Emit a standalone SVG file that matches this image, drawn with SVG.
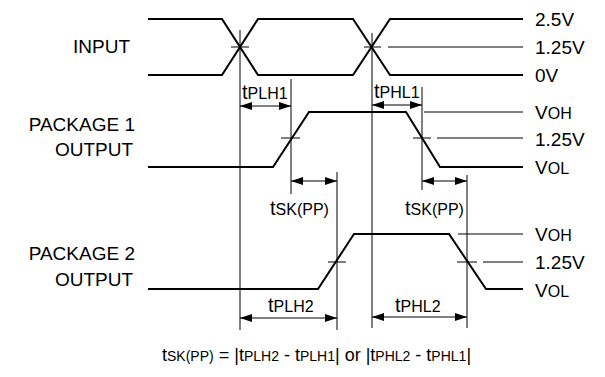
<svg xmlns="http://www.w3.org/2000/svg" width="605" height="377" viewBox="0 0 605 377">
<defs>
<marker id="ah" viewBox="0 0 12 8" refX="12" refY="4" markerWidth="12" markerHeight="8" markerUnits="userSpaceOnUse" orient="auto-start-reverse">
<path d="M0,0 L12,4 L0,8 Z" fill="#000"/>
</marker>
</defs>
<style>
.sig{fill:none;stroke:#000;stroke-width:2;stroke-linejoin:miter}
.ref{fill:none;stroke:#000;stroke-width:1}
.dim{fill:none;stroke:#000;stroke-width:1;marker-start:url(#ah);marker-end:url(#ah)}
text{font-family:"Liberation Sans",Arial,Helvetica,sans-serif;fill:#000}
.lbl{font-size:19px}
.big{font-size:20px}
.sm{font-size:16px}
.fb{font-size:18px}
.fs{font-size:14px}
</style>
<rect width="605" height="377" fill="#fff"/>
<g id="labels-left" class="lbl">
<text x="130" y="53" text-anchor="end">INPUT</text>
<text x="135" y="131" text-anchor="end">PACKAGE 1</text>
<text x="133" y="156" text-anchor="end">OUTPUT</text>
<text x="135" y="260" text-anchor="end">PACKAGE 2</text>
<text x="133" y="286" text-anchor="end">OUTPUT</text>
</g>
<g id="input">
<path class="sig" d="M148,19 H222 L258,75 H353 L390,19 H523"/>
<path class="sig" d="M148,75 H222 L258,19 H353 L390,75 H523"/>
<path class="ref" d="M231,47 H249 M364,47 H381 M388,47 H523"/>
</g>
<g id="package1">
<path class="sig" d="M148,167 H273 L309,112 H406 L440,167 H523"/>
<path class="ref" d="M424,112 H523 M281,138 H300 M413,138 H431 M437,138 H523"/>
</g>
<g id="package2">
<path class="sig" d="M148,289 H318 L354,234 H449 L486,289 H523"/>
<path class="ref" d="M458,234 H523 M328,262 H346 M457,262 H477 M483,262 H523"/>
</g>
<g id="connectors">
<path class="ref" d="M240,30 V330 M372,33 V328 M291,79 V194 M422,87 V190 M337,172 V330 M467,175 V328"/>
<path class="dim" d="M240,106 H291"/>
<path class="dim" d="M372,105 H422"/>
<path class="dim" d="M291,181 H337"/>
<path class="dim" d="M422,181 H467"/>
<path class="dim" d="M240,318 H337"/>
<path class="dim" d="M372,317 H467"/>
</g>
<g id="labels-right" class="lbl">
<text x="535" y="26">2.5V</text>
<text x="535" y="54">1.25V</text>
<text x="535" y="82">0V</text>
<text x="535" y="119">V<tspan class="sm">OH</tspan></text>
<text x="535" y="146">1.25V</text>
<text x="535" y="174">V<tspan class="sm">OL</tspan></text>
<text x="535" y="241">V<tspan class="sm">OH</tspan></text>
<text x="535" y="269">1.25V</text>
<text x="535" y="297">V<tspan class="sm">OL</tspan></text>
</g>
<g id="timing-labels" class="big">
<text x="242" y="99">t<tspan class="sm">PLH1</tspan></text>
<text x="374" y="98">t<tspan class="sm">PHL1</tspan></text>
<text x="270" y="215">t<tspan class="sm">SK(PP)</tspan></text>
<text x="405" y="215">t<tspan class="sm">SK(PP)</tspan></text>
<text x="268" y="312">t<tspan class="sm">PLH2</tspan></text>
<text x="395" y="312">t<tspan class="sm">PHL2</tspan></text>
</g>
<g id="formula" class="fb">
<text x="162" y="361">t<tspan class="fs">SK(PP)</tspan> = |t<tspan class="fs">PLH2</tspan> - t<tspan class="fs">PLH1</tspan>| or |t<tspan class="fs">PHL2</tspan> - t<tspan class="fs">PHL1</tspan>|</text>
</g>
</svg>
